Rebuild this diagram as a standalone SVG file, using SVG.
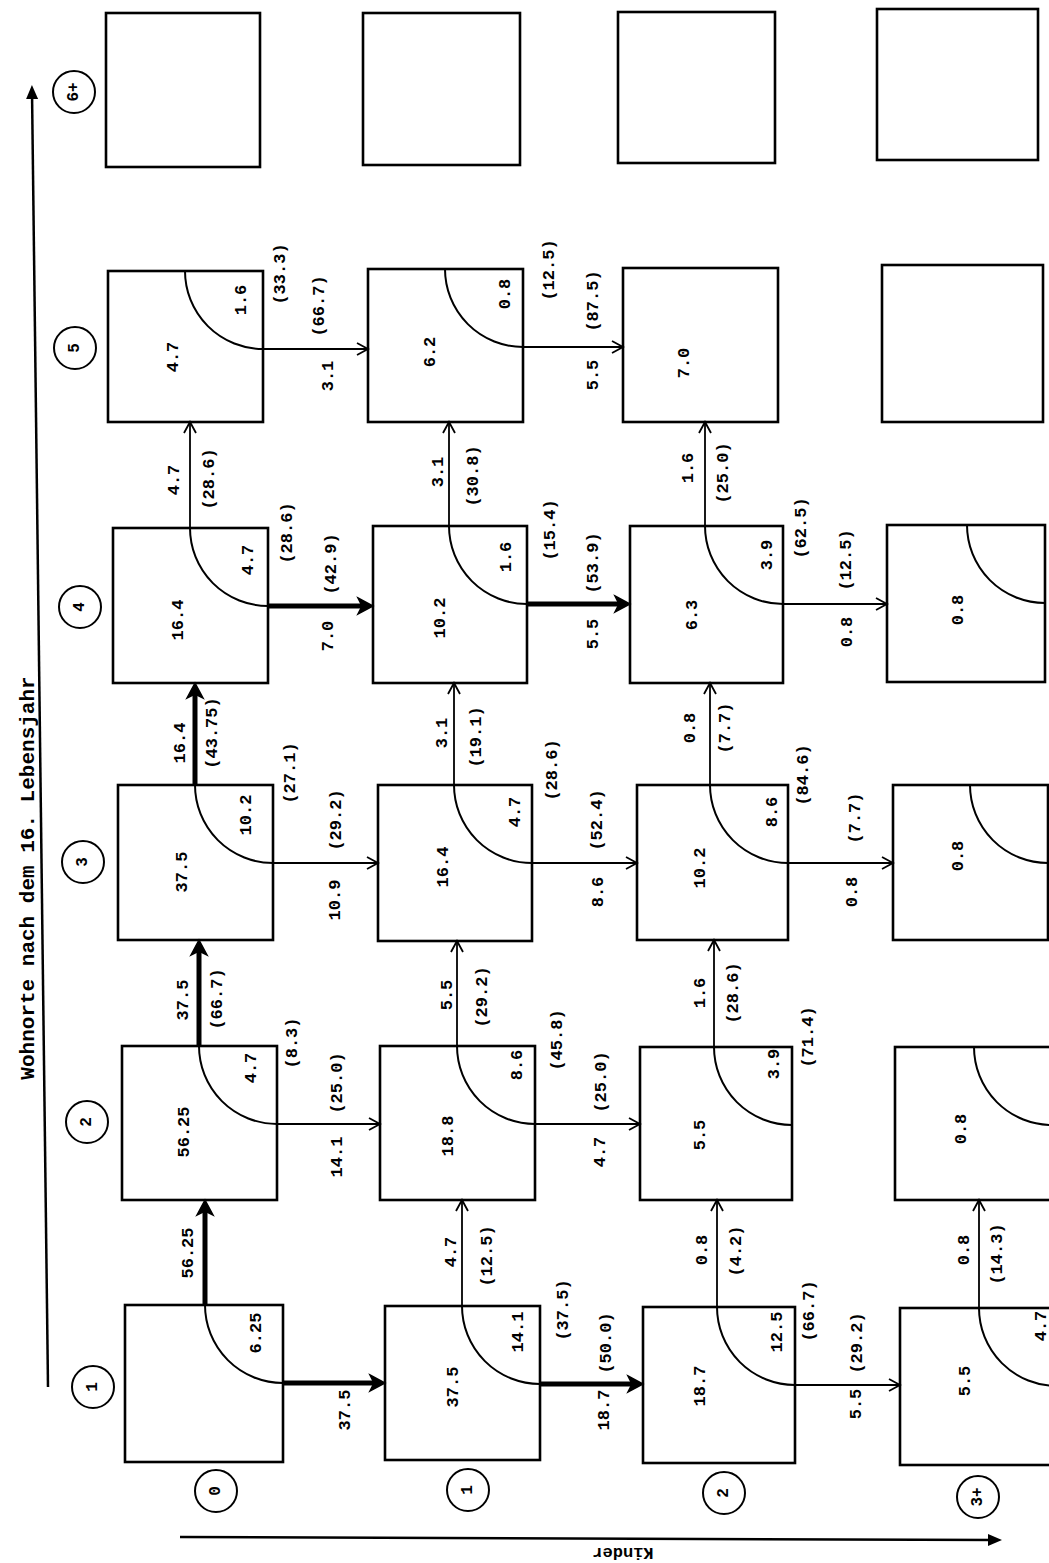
<svg xmlns="http://www.w3.org/2000/svg" width="1049" height="1563" viewBox="0 0 1049 1563">
<style>
.box{fill:none;stroke:#000;stroke-width:2.6}
.arc{fill:none;stroke:#000;stroke-width:2}
.thin{fill:none;stroke:#000;stroke-width:1.8;marker-end:url(#av)}
.thick{fill:none;stroke:#000;stroke-width:5;marker-end:url(#at)}
.axis{fill:none;stroke:#000;stroke-width:2.5;marker-end:url(#ax)}
.hc{fill:none;stroke:#000;stroke-width:2}
text{font-family:"Liberation Mono","DejaVu Sans Mono",monospace;font-weight:bold;font-size:17px;text-anchor:middle;dominant-baseline:central;fill:#000}
.h{font-size:16px}
.lab{font-size:21px}
</style>
<defs>
<marker id="av" viewBox="-14 -8 16 16" refX="0" refY="0" markerWidth="16" markerHeight="16" orient="auto" markerUnits="userSpaceOnUse"><path d="M-11,-6 L0,0 L-11,6" fill="none" stroke="#000" stroke-width="1.8"/></marker>
<marker id="at" viewBox="-10 -10 22 20" refX="0" refY="0" markerWidth="22" markerHeight="20" orient="auto" markerUnits="userSpaceOnUse"><path d="M-6,-8 L9,0 L-6,8 L-2,0 Z" fill="#000" stroke="#000" stroke-width="1.5"/></marker>
<marker id="ax" viewBox="-10 -8 18 16" refX="0" refY="0" markerWidth="18" markerHeight="16" orient="auto" markerUnits="userSpaceOnUse"><path d="M-8,-6 L6,0 L-8,6 Z" fill="#000"/></marker>
</defs>
<rect x="0" y="0" width="1049" height="1563" fill="#fff"/>

<g id="axes">
<line class="axis" x1="48" y1="1387" x2="32" y2="91"/>
<text class="lab" transform="translate(28,878) rotate(-90)">Wohnorte nach dem 16. Lebensjahr</text>
<line class="axis" x1="180" y1="1537" x2="996" y2="1540"/>
<text transform="translate(623,1552) rotate(180)">Kinder</text>
</g>

<g id="headers">
<g id="hw6"><circle class="hc" cx="74" cy="92" r="21"/><text class="h" transform="translate(74,92) rotate(-90)">6+</text></g>
<g id="hw5"><circle class="hc" cx="75" cy="348" r="21"/><text class="h" transform="translate(75,348) rotate(-90)">5</text></g>
<g id="hw4"><circle class="hc" cx="80" cy="607" r="21"/><text class="h" transform="translate(80,607) rotate(-90)">4</text></g>
<g id="hw3"><circle class="hc" cx="83" cy="862" r="21"/><text class="h" transform="translate(83,862) rotate(-90)">3</text></g>
<g id="hw2"><circle class="hc" cx="87" cy="1122" r="21"/><text class="h" transform="translate(87,1122) rotate(-90)">2</text></g>
<g id="hw1"><circle class="hc" cx="93" cy="1387" r="21"/><text class="h" transform="translate(93,1387) rotate(-90)">1</text></g>
<g id="hk0"><circle class="hc" cx="216" cy="1491" r="21"/><text class="h" transform="translate(216,1491) rotate(-90)">0</text></g>
<g id="hk1"><circle class="hc" cx="468" cy="1490" r="21"/><text class="h" transform="translate(468,1490) rotate(-90)">1</text></g>
<g id="hk2"><circle class="hc" cx="724" cy="1493" r="21"/><text class="h" transform="translate(724,1493) rotate(-90)">2</text></g>
<g id="hk3"><circle class="hc" cx="978" cy="1497" r="21"/><text class="h" transform="translate(978,1497) rotate(-90)">3+</text></g>
</g>

<!-- Row Wohnort 6+ -->
<g id="n-w6-k0"><rect class="box" x="106" y="13" width="154" height="154"/></g>
<g id="n-w6-k1"><rect class="box" x="363" y="13" width="157" height="152"/></g>
<g id="n-w6-k2"><rect class="box" x="618" y="12" width="157" height="151"/></g>
<g id="n-w6-k3"><rect class="box" x="877" y="9" width="161" height="151"/></g>

<!-- Row Wohnort 5 -->
<g id="n-w5-k0"><rect class="box" x="108" y="271" width="155" height="151"/><path class="arc" d="M185,271 A78,78 0 0 0 263,349"/>
<text transform="translate(173,357) rotate(-90)">4.7</text><text transform="translate(241,300) rotate(-90)">1.6</text><text transform="translate(280,274) rotate(-90)">(33.3)</text></g>
<g id="n-w5-k1"><rect class="box" x="368" y="269" width="155" height="153"/><path class="arc" d="M445,269 A78,78 0 0 0 523,347"/>
<text transform="translate(430,352) rotate(-90)">6.2</text><text transform="translate(505,294) rotate(-90)">0.8</text><text transform="translate(549,270) rotate(-90)">(12.5)</text></g>
<g id="n-w5-k2"><rect class="box" x="623" y="268" width="155" height="154"/><text transform="translate(684,363) rotate(-90)">7.0</text></g>
<g id="n-w5-k3"><rect class="box" x="882" y="265" width="161" height="157"/></g>

<!-- Row Wohnort 4 -->
<g id="n-w4-k0"><rect class="box" x="113" y="528" width="155" height="155"/><path class="arc" d="M190,528 A78,78 0 0 0 268,606"/>
<text transform="translate(178,620) rotate(-90)">16.4</text><text transform="translate(248,560) rotate(-90)">4.7</text><text transform="translate(287,533) rotate(-90)">(28.6)</text></g>
<g id="n-w4-k1"><rect class="box" x="373" y="526" width="154" height="157"/><path class="arc" d="M449,526 A78,78 0 0 0 527,604"/>
<text transform="translate(440,618) rotate(-90)">10.2</text><text transform="translate(506,557) rotate(-90)">1.6</text><text transform="translate(550,530) rotate(-90)">(15.4)</text></g>
<g id="n-w4-k2"><rect class="box" x="630" y="526" width="153" height="157"/><path class="arc" d="M705,526 A78,78 0 0 0 783,604"/>
<text transform="translate(692,615) rotate(-90)">6.3</text><text transform="translate(767,555) rotate(-90)">3.9</text><text transform="translate(801,528) rotate(-90)">(62.5)</text></g>
<g id="n-w4-k3"><rect class="box" x="887" y="525" width="158" height="157"/><path class="arc" d="M967,525 A78,78 0 0 0 1045,603"/>
<text transform="translate(958,610) rotate(-90)">0.8</text></g>

<!-- Row Wohnort 3 -->
<g id="n-w3-k0"><rect class="box" x="118" y="785" width="155" height="155"/><path class="arc" d="M195,785 A78,78 0 0 0 273,863"/>
<text transform="translate(182,872) rotate(-90)">37.5</text><text transform="translate(246,815) rotate(-90)">10.2</text><text transform="translate(290,773) rotate(-90)">(27.1)</text></g>
<g id="n-w3-k1"><rect class="box" x="378" y="785" width="154" height="156"/><path class="arc" d="M454,785 A78,78 0 0 0 532,863"/>
<text transform="translate(443,867) rotate(-90)">16.4</text><text transform="translate(515,812) rotate(-90)">4.7</text><text transform="translate(552,770) rotate(-90)">(28.6)</text></g>
<g id="n-w3-k2"><rect class="box" x="637" y="785" width="151" height="155"/><path class="arc" d="M710,785 A78,78 0 0 0 788,863"/>
<text transform="translate(700,868) rotate(-90)">10.2</text><text transform="translate(772,812) rotate(-90)">8.6</text><text transform="translate(803,775) rotate(-90)">(84.6)</text></g>
<g id="n-w3-k3"><rect class="box" x="893" y="785" width="155" height="155"/><path class="arc" d="M970,785 A78,78 0 0 0 1048,863"/>
<text transform="translate(958,856) rotate(-90)">0.8</text></g>

<!-- Row Wohnort 2 -->
<g id="n-w2-k0"><rect class="box" x="122" y="1046" width="155" height="154"/><path class="arc" d="M199,1046 A78,78 0 0 0 277,1124"/>
<text transform="translate(184,1132) rotate(-90)">56.25</text><text transform="translate(251,1068) rotate(-90)">4.7</text><text transform="translate(292,1043) rotate(-90)">(8.3)</text></g>
<g id="n-w2-k1"><rect class="box" x="380" y="1046" width="155" height="154"/><path class="arc" d="M457,1046 A78,78 0 0 0 535,1124"/>
<text transform="translate(448,1136) rotate(-90)">18.8</text><text transform="translate(517,1065) rotate(-90)">8.6</text><text transform="translate(557,1040) rotate(-90)">(45.8)</text></g>
<g id="n-w2-k2"><rect class="box" x="640" y="1047" width="152" height="153"/><path class="arc" d="M714,1047 A78,78 0 0 0 792,1125"/>
<text transform="translate(700,1135) rotate(-90)">5.5</text><text transform="translate(774,1064) rotate(-90)">3.9</text><text transform="translate(808,1037) rotate(-90)">(71.4)</text></g>
<g id="n-w2-k3"><rect class="box" x="895" y="1047" width="157" height="153"/><path class="arc" d="M974,1047 A78,78 0 0 0 1052,1125"/>
<text transform="translate(961,1129) rotate(-90)">0.8</text></g>

<!-- Row Wohnort 1 -->
<g id="n-w1-k0"><rect class="box" x="125" y="1305" width="158" height="157"/><path class="arc" d="M205,1305 A78,78 0 0 0 283,1383"/>
<text transform="translate(256,1333) rotate(-90)">6.25</text></g>
<g id="n-w1-k1"><rect class="box" x="385" y="1306" width="155" height="154"/><path class="arc" d="M462,1306 A78,78 0 0 0 540,1384"/>
<text transform="translate(453,1387) rotate(-90)">37.5</text><text transform="translate(518,1332) rotate(-90)">14.1</text><text transform="translate(563,1310) rotate(-90)">(37.5)</text></g>
<g id="n-w1-k2"><rect class="box" x="643" y="1307" width="152" height="156"/><path class="arc" d="M717,1307 A78,78 0 0 0 795,1385"/>
<text transform="translate(700,1386) rotate(-90)">18.7</text><text transform="translate(777,1332) rotate(-90)">12.5</text><text transform="translate(809,1311) rotate(-90)">(66.7)</text></g>
<g id="n-w1-k3"><rect class="box" x="900" y="1308" width="157" height="157"/><path class="arc" d="M979,1308 A78,78 0 0 0 1057,1386"/>
<text transform="translate(965,1381) rotate(-90)">5.5</text><text transform="translate(1041,1326) rotate(-90)">4.7</text></g>

<g id="connectors">
<!-- upward (Wohnort +1) -->
<line class="thick" x1="205" y1="1305" x2="205" y2="1209"/>
<text transform="translate(188,1253) rotate(-90)">56.25</text>
<line class="thin" x1="462" y1="1306" x2="462" y2="1200"/>
<text transform="translate(451,1252) rotate(-90)">4.7</text><text transform="translate(487,1256) rotate(-90)">(12.5)</text>
<line class="thin" x1="717" y1="1307" x2="717" y2="1200"/>
<text transform="translate(702,1250) rotate(-90)">0.8</text><text transform="translate(736,1251) rotate(-90)">(4.2)</text>
<line class="thin" x1="979" y1="1308" x2="979" y2="1200"/>
<text transform="translate(964,1250) rotate(-90)">0.8</text><text transform="translate(997,1254) rotate(-90)">(14.3)</text>
<line class="thick" x1="199" y1="1046" x2="199" y2="949"/>
<text transform="translate(183,1000) rotate(-90)">37.5</text><text transform="translate(217,999) rotate(-90)">(66.7)</text>
<line class="thin" x1="457" y1="1046" x2="457" y2="941"/>
<text transform="translate(447,995) rotate(-90)">5.5</text><text transform="translate(482,997) rotate(-90)">(29.2)</text>
<line class="thin" x1="714" y1="1047" x2="714" y2="940"/>
<text transform="translate(700,993) rotate(-90)">1.6</text><text transform="translate(733,993) rotate(-90)">(28.6)</text>
<line class="thick" x1="195" y1="785" x2="195" y2="692"/>
<text transform="translate(180,743) rotate(-90)">16.4</text><text transform="translate(212,733) rotate(-90)">(43.75)</text>
<line class="thin" x1="454" y1="785" x2="454" y2="683"/>
<text transform="translate(442,733) rotate(-90)">3.1</text><text transform="translate(476,737) rotate(-90)">(19.1)</text>
<line class="thin" x1="710" y1="785" x2="710" y2="683"/>
<text transform="translate(690,728) rotate(-90)">0.8</text><text transform="translate(725,728) rotate(-90)">(7.7)</text>
<line class="thin" x1="190" y1="528" x2="190" y2="422"/>
<text transform="translate(174,480) rotate(-90)">4.7</text><text transform="translate(209,479) rotate(-90)">(28.6)</text>
<line class="thin" x1="449" y1="526" x2="449" y2="422"/>
<text transform="translate(438,472) rotate(-90)">3.1</text><text transform="translate(473,476) rotate(-90)">(30.8)</text>
<line class="thin" x1="705" y1="526" x2="705" y2="422"/>
<text transform="translate(688,468) rotate(-90)">1.6</text><text transform="translate(723,473) rotate(-90)">(25.0)</text>
<!-- rightward (Kinder +1) -->
<line class="thick" x1="283" y1="1383" x2="376" y2="1383"/>
<text transform="translate(345,1410) rotate(-90)">37.5</text>
<line class="thick" x1="540" y1="1384" x2="634" y2="1384"/>
<text transform="translate(606,1343) rotate(-90)">(50.0)</text><text transform="translate(604,1410) rotate(-90)">18.7</text>
<line class="thin" x1="795" y1="1385" x2="900" y2="1385"/>
<text transform="translate(857,1343) rotate(-90)">(29.2)</text><text transform="translate(856,1404) rotate(-90)">5.5</text>
<line class="thin" x1="277" y1="1124" x2="380" y2="1124"/>
<text transform="translate(337,1083) rotate(-90)">(25.0)</text><text transform="translate(337,1157) rotate(-90)">14.1</text>
<line class="thin" x1="535" y1="1124" x2="640" y2="1124"/>
<text transform="translate(601,1082) rotate(-90)">(25.0)</text><text transform="translate(600,1152) rotate(-90)">4.7</text>
<line class="thin" x1="273" y1="863" x2="378" y2="863"/>
<text transform="translate(336,820) rotate(-90)">(29.2)</text><text transform="translate(335,900) rotate(-90)">10.9</text>
<line class="thin" x1="532" y1="863" x2="637" y2="863"/>
<text transform="translate(597,820) rotate(-90)">(52.4)</text><text transform="translate(598,892) rotate(-90)">8.6</text>
<line class="thin" x1="788" y1="863" x2="893" y2="863"/>
<text transform="translate(855,818) rotate(-90)">(7.7)</text><text transform="translate(852,892) rotate(-90)">0.8</text>
<line class="thick" x1="268" y1="606" x2="364" y2="606"/>
<text transform="translate(331,564) rotate(-90)">(42.9)</text><text transform="translate(328,636) rotate(-90)">7.0</text>
<line class="thick" x1="527" y1="604" x2="621" y2="604"/>
<text transform="translate(593,563) rotate(-90)">(53.9)</text><text transform="translate(593,634) rotate(-90)">5.5</text>
<line class="thin" x1="783" y1="604" x2="887" y2="604"/>
<text transform="translate(846,560) rotate(-90)">(12.5)</text><text transform="translate(847,632) rotate(-90)">0.8</text>
<line class="thin" x1="263" y1="349" x2="368" y2="349"/>
<text transform="translate(319,306) rotate(-90)">(66.7)</text><text transform="translate(328,376) rotate(-90)">3.1</text>
<line class="thin" x1="523" y1="347" x2="623" y2="347"/>
<text transform="translate(593,301) rotate(-90)">(87.5)</text><text transform="translate(593,375) rotate(-90)">5.5</text>
</g>
</svg>
